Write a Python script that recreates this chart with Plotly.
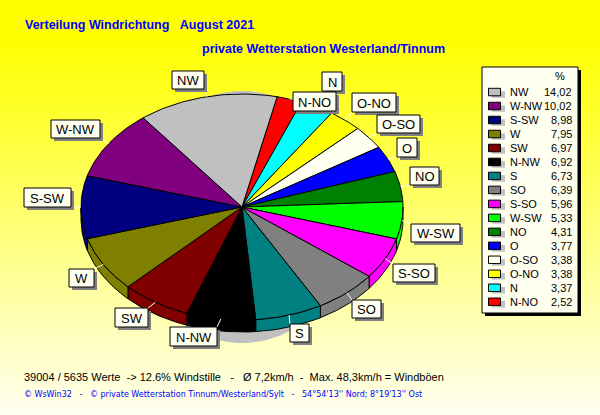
import math
import plotly.graph_objects as go

# Data, in legend order
directions = ["NW", "W-NW", "S-SW", "W", "SW", "N-NW", "S", "SO", "S-SO", "W-SW", "NO", "O", "O-SO", "O-NO", "N", "N-NO"]
percent = [14.02, 10.02, 8.98, 7.95, 6.97, 6.92, 6.73, 6.39, 5.96, 5.33, 4.31, 3.77, 3.38, 3.38, 3.37, 2.52]
percent_text = ["14,02", "10,02", "8,98", "7,95", "6,97", "6,92", "6,73", "6,39", "5,96", "5,33", "4,31", "3,77", "3,38", "3,38", "3,37", "2,52"]

# Style
colors = ["#C0C0C0", "#800080", "#000080", "#808000", "#800000", "#000000", "#008080", "#808080",
          "#FF00FF", "#00FF00", "#008000", "#0000FF", "#FFFFF0", "#FFFF00", "#00FFFF", "#FF0000"]
CREAM = "#FFFFF0"
FONT = "Liberation Sans"

# Geometry of the squashed 3D pie (pixels)
CX, CY, RX, RY, DEPTH = 242, 207, 161, 113, 12
START_DEG = 12.6
boxes = {
    "NW": (172, 71, 204, 89), "W-NW": (51, 120, 100, 138), "S-SW": (24, 188, 71, 207),
    "W": (69, 269, 94, 287), "SW": (115, 308, 148, 327), "N-NW": (170, 327, 217, 346),
    "N": (322, 72, 342, 91), "N-NO": (293, 92, 336, 111), "O-NO": (352, 93, 396, 112),
    "O-SO": (377, 115, 420, 133), "O": (397, 138, 417, 157), "NO": (410, 167, 439, 185),
    "W-SW": (411, 224, 460, 242), "S-SO": (393, 264, 435, 282), "SO": (352, 300, 381, 318),
    "S": (290, 324, 309, 342),
}


def rim(deg, dy=0):
    a = math.radians(deg)
    return CX + RX * math.sin(a), CY - RY * math.cos(a) + dy


def arc(a0, a1, dy=0):
    n = max(2, int(abs(a1 - a0) / 1.0) + 1)
    return [rim(a0 + (a1 - a0) * i / n, dy) for i in range(n + 1)]


fig = go.Figure()

# Background gradient
fig.add_trace(go.Scatter(
    x=[0, 600, 600, 0, 0], y=[0, 0, 415, 415, 0], mode="none", fill="toself",
    fillgradient=dict(type="vertical", start=0, stop=415,
                      colorscale=[[0, "#FFFF00"], [0.1, "#FFFF00"], [1, "#FFFFF0"]]),
    hoverinfo="skip", showlegend=False))

# Grey drop shadow behind the pie
sh = [(CX + 112 * math.cos(math.radians(t)), 217 + 126 * math.sin(math.radians(t))) for t in range(0, 361, 2)]
fig.add_trace(go.Scatter(x=[p[0] for p in sh], y=[p[1] for p in sh], mode="none", fill="toself",
                         fillcolor="#C0C0C0", hoverinfo="skip", showlegend=False))

# Slices run clockwise in ascending order, which is the legend order reversed
order = list(range(len(percent)))[::-1]
total = sum(percent)
angle = START_DEG
spans = {}
for i in order:
    spans[i] = (angle, angle + percent[i] / total * 360)
    angle = spans[i][1]

line = dict(color="black", width=1)
for i in order:
    a0, a1 = spans[i]
    b0, b1 = max(a0, 90), min(a1, 270)
    if b1 > b0:
        pts = arc(b0, b1) + arc(b1, b0, DEPTH)
        pts.append(pts[0])
        fig.add_trace(go.Scatter(x=[p[0] for p in pts], y=[p[1] for p in pts], mode="lines", line=line,
                                 fill="toself", fillcolor=colors[i], hoverinfo="skip", showlegend=False))
for i in order:
    a0, a1 = spans[i]
    pts = [(CX, CY)] + arc(a0, a1) + [(CX, CY)]
    fig.add_trace(go.Scatter(x=[p[0] for p in pts], y=[p[1] for p in pts], mode="lines", line=line,
                             fill="toself", fillcolor=colors[i], name=directions[i],
                             hoverinfo="name", showlegend=False))

shapes = []
annotations = []


def text(x, y, s, size=11, color="black", anchor="left", family=FONT, bold=False):
    annotations.append(dict(x=x, y=y, xref="x", yref="y", text=f"<b>{s}</b>" if bold else s, showarrow=False,
                            xanchor=anchor, yanchor="middle", align=anchor,
                            font=dict(family=family, size=size, color=color)))


def rect(x0, y0, x1, y1, fill, border=None):
    shapes.append(dict(type="rect", x0=x0, y0=y0, x1=x1, y1=y1, xref="x", yref="y", fillcolor=fill,
                       line=dict(color=border or fill, width=1 if border else 0)))


# Leaders and callout boxes
for i, name in enumerate(directions):
    a0, a1 = spans[i]
    mid = (a0 + a1) / 2
    px, py = rim(mid)
    x0, y0, x1, y1 = boxes[name]
    qx, qy = min(max(px, x0), x1), min(max(py, y0), y1)
    shapes.append(dict(type="line", x0=px, y0=py, x1=qx, y1=qy, xref="x", yref="y",
                       line=dict(color=CREAM, width=1)))
for name in directions:
    x0, y0, x1, y1 = boxes[name]
    rect(x0 + 3, y0 + 3, x1 + 3, y1 + 3, "#808080")
for name in directions:
    x0, y0, x1, y1 = boxes[name]
    rect(x0, y0, x1, y1, CREAM, "black")
    text((x0 + x1) / 2, (y0 + y1) / 2 + 0.5, name, size=13, anchor="center")

# Legend panel
rect(485, 70, 581, 316, "black")
rect(482, 67, 578, 313, CREAM, "black")
text(560, 76, "%", anchor="center")
for row, name in enumerate(directions):
    y = 92.3 + row * 13.98
    rect(492, y - 1, 505, y + 9 - 4 + 0.5, "#C0C0C0")
    rect(488.5, y - 4, 500.5, y + 3.5, colors[row], "black")
    text(508, y, name)
    text(573.5, y, percent_text[row], anchor="right")

# Titles and footer
text(23, 25, "Verteilung Windrichtung\u00a0\u00a0\u00a0August 2021", size=12.5, color="#0000FF", bold=True)
text(200, 49, "private Wetterstation Westerland/Tinnum", size=12.5, color="#0000FF", bold=True)
text(22, 377, "39004 / 5635 Werte\u00a0\u00a0-> 12.6% Windstille\u00a0\u00a0\u00a0-\u00a0\u00a0\u00a0\u00d8 7,2km/h\u00a0\u00a0-\u00a0\u00a0Max. 48,3km/h = Windb\u00f6en", size=11)
text(22, 394, "\u00a9 WsWin32\u00a0\u00a0\u00a0-\u00a0\u00a0\u00a0\u00a9 private Wetterstation Tinnum/Westerland/Sylt\u00a0\u00a0\u00a0-\u00a0\u00a0\u00a054\u00b054'13'' Nord; 8\u00b019'13'' Ost",
     size=8, color="#0000FF", family="DejaVu Sans")

fig.update_layout(
    width=600, height=415, margin=dict(l=0, r=0, t=0, b=0), showlegend=False,
    paper_bgcolor="#FFFFF0", plot_bgcolor="rgba(0,0,0,0)",
    xaxis=dict(range=[0, 600], visible=False, fixedrange=True),
    yaxis=dict(range=[415, 0], visible=False, fixedrange=True),
    shapes=shapes, annotations=annotations,
)
fig.write_html("out.html", config=dict(displayModeBar=False),
               post_script="document.body.style.margin='0';document.body.style.overflow='hidden';")
